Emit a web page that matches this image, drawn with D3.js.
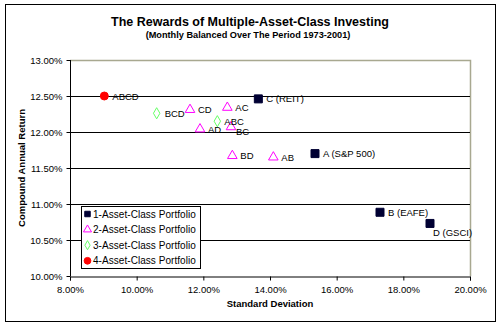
<!DOCTYPE html>
<html><head><meta charset="utf-8">
<script src="https://cdn.jsdelivr.net/npm/d3@7"></script>
<style>body{margin:0;background:#fff}svg{display:block}text{font-family:Arial,"Liberation Sans",sans-serif}</style>
</head><body>
<svg id="c" width="500" height="326"></svg>
<script>
const seriesNames = ["1-Asset-Class Portfolio","2-Asset-Class Portfolio","3-Asset-Class Portfolio","4-Asset-Class Portfolio"];
const labels1 = ["A (S&P 500)","B (EAFE)","C (REIT)","D (GSCI)"];
const sd1 = [15.35,17.3,13.65,18.8];
const ret1 = [11.70,10.885,12.46,10.73];
const labels2 = ["AB","AC","AD","BC","BD","CD"];
const sd2 = [14.1,12.72,11.9,12.83,12.87,11.6];
const ret2 = [11.65,12.34,12.04,12.07,11.67,12.31];
const labels3 = ["ABC","BCD"];
const sd3 = [12.42,10.6];
const ret3 = [12.15,12.26];
const labels4 = ["ABCD"];
const sd4 = [9.03];
const ret4 = [12.50];
const xTicks = [8,10,12,14,16,18,20];
const yTicks = [10,10.5,11,11.5,12,12.5,13];

const svg = d3.select("#c");
const L=70,R=470,T=60,B=276;
const x = d3.scaleLinear().domain([8,20]).range([L,R]);
const y = d3.scaleLinear().domain([10,13]).range([B,T]);

svg.append("rect").attr("x",5.5).attr("y",4.5).attr("width",490).attr("height",317).attr("fill","#fff").attr("stroke","#000").attr("stroke-width",1);

svg.append("text").attr("x",250).attr("y",26).attr("text-anchor","middle").attr("font-weight","bold").attr("font-size",12.5).text("The Rewards of Multiple-Asset-Class Investing");
svg.append("text").attr("x",248).attr("y",38).attr("text-anchor","middle").attr("font-weight","bold").attr("font-size",9.2).text("(Monthly Balanced Over The Period 1973-2001)");

// plot area border
svg.append("path").attr("d",`M${L},${T+0.5}H${R+0.5}V${B}`).attr("fill","none").attr("stroke","#a8a890").attr("stroke-width",1.5);
// gridlines
svg.append("g").selectAll("line").data(yTicks.filter(v=>v>10&&v<13)).join("line")
  .attr("x1",L).attr("x2",R).attr("y1",d=>Math.round(y(d))+0.5).attr("y2",d=>Math.round(y(d))+0.5).attr("stroke","#000").attr("stroke-width",1);

const fmt = d=>d3.format(".2f")(d)+"%";
const yAx = svg.append("g").attr("transform",`translate(${L+0.5},0)`).call(d3.axisLeft(y).tickValues(yTicks).tickFormat(fmt).tickSize(4).tickPadding(4));
const xAx = svg.append("g").attr("transform",`translate(0,${B+0.5})`).call(d3.axisBottom(x).tickValues(xTicks).tickFormat(fmt).tickSize(4).tickPadding(6));
[yAx,xAx].forEach(a=>{a.selectAll("text").attr("font-size",9.5).attr("fill","#000").attr("font-family","Arial,'Liberation Sans',sans-serif");a.selectAll("line,path").attr("stroke","#000");});
yAx.select(".domain").attr("d",`M0,${T}V${B}`);

svg.append("text").attr("x",L+200).attr("y",307).attr("text-anchor","middle").attr("font-weight","bold").attr("font-size",9.5).text("Standard Deviation");
svg.append("text").attr("transform",`translate(25,${(T+B)/2}) rotate(-90)`).attr("text-anchor","middle").attr("font-weight","bold").attr("font-size",9.5).text("Compound Annual Return");

const sym = {
  sq: d3.symbol().type(d3.symbolSquare).size(64),
  tri: d3.symbol().type(d3.symbolTriangle).size(40),
  dia: d3.symbol().type(d3.symbolDiamond).size(36),
  cir: d3.symbol().type(d3.symbolCircle).size(50)
};
const styles = [
  {s:sym.sq, fill:"#000033", stroke:"#000033"},
  {s:sym.tri, fill:"none", stroke:"#ff00ff"},
  {s:sym.dia, fill:"none", stroke:"#66ff66"},
  {s:sym.cir, fill:"#ff0000", stroke:"#ff0000"}
];
const groups = [
  [labels1,sd1,ret1],[labels2,sd2,ret2],[labels3,sd3,ret3],[labels4,sd4,ret4]
];
const labelOff = {"D (GSCI)":[3,13],"BC":[5,8],"ABC":[7,4]};
groups.forEach((g,i)=>{
  const data = g[0].map((l,k)=>({l, sx:g[1][k], ry:g[2][k]}));
  const st = styles[i];
  const gg = svg.append("g");
  gg.selectAll("path").data(data).join("path")
    .attr("transform",d=>`translate(${x(d.sx)},${y(d.ry)})`)
    .attr("d",st.s()).attr("fill",st.fill).attr("stroke",st.stroke).attr("stroke-width",1);
  gg.selectAll("text").data(data).join("text")
    .attr("x",d=>x(d.sx)+(labelOff[d.l]?labelOff[d.l][0]:8))
    .attr("y",d=>y(d.ry)+(labelOff[d.l]?labelOff[d.l][1]:3.5))
    .attr("font-size",9.5).attr("fill","#000").text(d=>d.l);
});

// legend
const lg = svg.append("g");
lg.append("rect").attr("x",81.5).attr("y",206.5).attr("width",119).attr("height",62).attr("fill","#fff").attr("stroke","#000");
seriesNames.forEach((n,i)=>{
  const cy = 214+i*15.6;
  const st = styles[i];
  const sz = [30,28,24,36][i];
  lg.append("path").attr("transform",`translate(87.5,${cy})`).attr("d",d3.symbol().type([d3.symbolSquare,d3.symbolTriangle,d3.symbolDiamond,d3.symbolCircle][i]).size(sz)())
    .attr("fill",st.fill).attr("stroke",st.stroke);
  lg.append("text").attr("x",93).attr("y",cy+3.5).attr("font-size",10).attr("letter-spacing",0.05).text(n);
});
</script>
</body></html>
